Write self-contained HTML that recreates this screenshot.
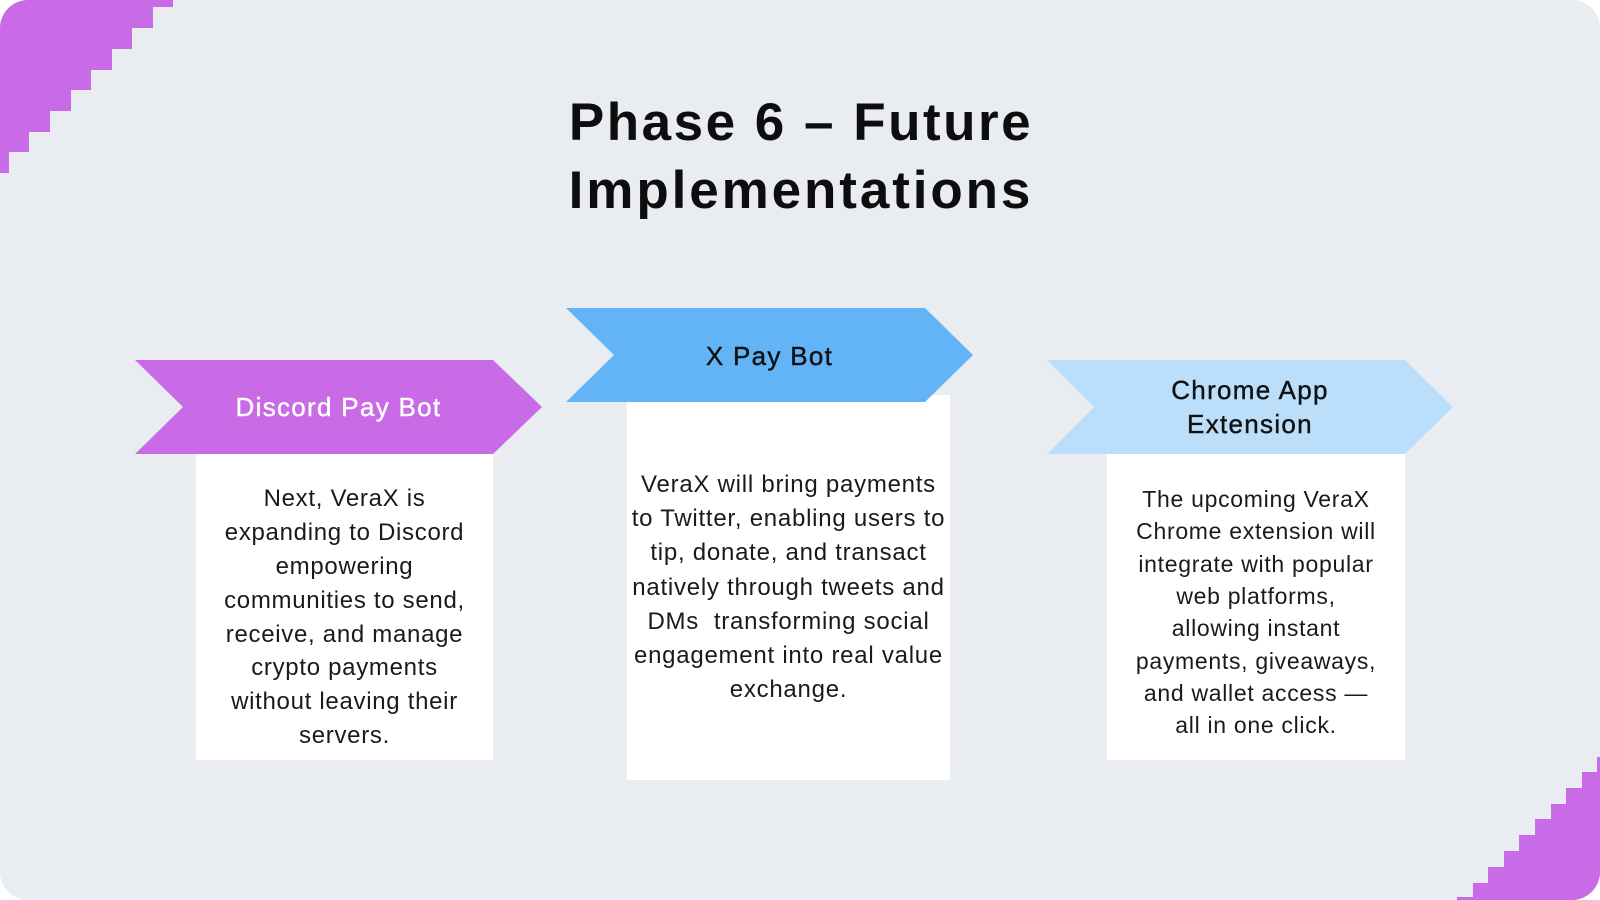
<!DOCTYPE html>
<html>
<head>
<meta charset="utf-8">
<style>
  html,body{margin:0;padding:0;background:#ffffff;}
  body{width:1600px;height:900px;overflow:hidden;}
  .wrap{position:absolute;left:0;top:0;width:1600px;height:900px;border-radius:28px;overflow:hidden;background:#e9edf1;}
  svg{position:absolute;left:0;top:0;}
  text{font-family:"Liberation Sans", Arial, sans-serif;}
</style>
</head>
<body>
<div class="wrap">
<svg width="1600" height="900" viewBox="0 0 1600 900" xmlns="http://www.w3.org/2000/svg">
  <!-- corner stairs -->
  <polygon fill="#c96ae6" points="0,0 173,0 173,7 153,7 153,28 132,28 132,49 112,49 112,70 91,70 91,90 71,90 71,111 50,111 50,132 29,132 29,152 9,152 9,173 0,173"/>
  <polygon fill="#c96ae6" points="1597,757 1600,757 1600,900 1457,900 1457,897 1473,897 1473,883 1488,883 1488,867 1504,867 1504,851 1519,851 1519,835 1535,835 1535,819 1551,819 1551,804 1566,804 1566,788 1582,788 1582,772 1597,772"/>

  <!-- title -->
  <text x="801" y="140" text-anchor="middle" font-size="53" font-weight="700" letter-spacing="2.5" fill="#0d0d0d">Phase 6 – Future</text>
  <text x="801" y="208" text-anchor="middle" font-size="53" font-weight="700" letter-spacing="2.9" fill="#0d0d0d">Implementations</text>

  <!-- white boxes -->
  <rect x="196" y="450" width="297" height="310" fill="#ffffff"/>
  <rect x="627" y="395" width="323" height="385" fill="#ffffff"/>
  <rect x="1107" y="450" width="298" height="310" fill="#ffffff"/>

  <!-- ribbons -->
  <polygon fill="#c96ae6" points="135,360 493,360 542,407 493,454 135,454 183,407"/>
  <polygon fill="#63b4f6" points="566,308 925,308 973,355 925,402 566,402 614,355"/>
  <polygon fill="#bbdefa" points="1047,360 1405,360 1453,407 1405,454 1047,454 1094,407"/>

  <!-- ribbon labels -->
  <text x="338.5" y="416" text-anchor="middle" font-size="26" letter-spacing="1.3" fill="#ffffff" stroke="#ffffff" stroke-width="0.4">Discord Pay Bot</text>
  <text x="769.5" y="365" text-anchor="middle" font-size="26" letter-spacing="1.3" fill="#111111" stroke="#111111" stroke-width="0.4">X Pay Bot</text>
  <text x="1250" y="399" text-anchor="middle" font-size="26" letter-spacing="1.3" fill="#111111" stroke="#111111" stroke-width="0.4">Chrome App</text>
  <text x="1250" y="433" text-anchor="middle" font-size="26" letter-spacing="1.3" fill="#111111" stroke="#111111" stroke-width="0.4">Extension</text>

  <!-- box 1 text -->
  <g font-size="24" letter-spacing="0.7" fill="#1a1a1a" text-anchor="middle">
    <text x="344.5" y="506">Next, VeraX is</text>
    <text x="344.5" y="540">expanding to Discord</text>
    <text x="344.5" y="574">empowering</text>
    <text x="344.5" y="608">communities to send,</text>
    <text x="344.5" y="642">receive, and manage</text>
    <text x="344.5" y="675">crypto payments</text>
    <text x="344.5" y="709">without leaving their</text>
    <text x="344.5" y="743">servers.</text>
  </g>

  <!-- box 2 text -->
  <g font-size="24" letter-spacing="0.75" fill="#1a1a1a" text-anchor="middle">
    <text x="788.5" y="492">VeraX will bring payments</text>
    <text x="788.5" y="526">to Twitter, enabling users to</text>
    <text x="788.5" y="560">tip, donate, and transact</text>
    <text x="788.5" y="595">natively through tweets and</text>
    <text x="788.5" y="629" xml:space="preserve">DMs  transforming social</text>
    <text x="788.5" y="663">engagement into real value</text>
    <text x="788.5" y="697">exchange.</text>
  </g>

  <!-- box 3 text -->
  <g font-size="23" letter-spacing="0.7" fill="#1a1a1a" text-anchor="middle">
    <text x="1256" y="507">The upcoming VeraX</text>
    <text x="1256" y="539">Chrome extension will</text>
    <text x="1256" y="572">integrate with popular</text>
    <text x="1256" y="604">web platforms,</text>
    <text x="1256" y="636">allowing instant</text>
    <text x="1256" y="669">payments, giveaways,</text>
    <text x="1256" y="701">and wallet access —</text>
    <text x="1256" y="733">all in one click.</text>
  </g>
</svg>
</div>
</body>
</html>
